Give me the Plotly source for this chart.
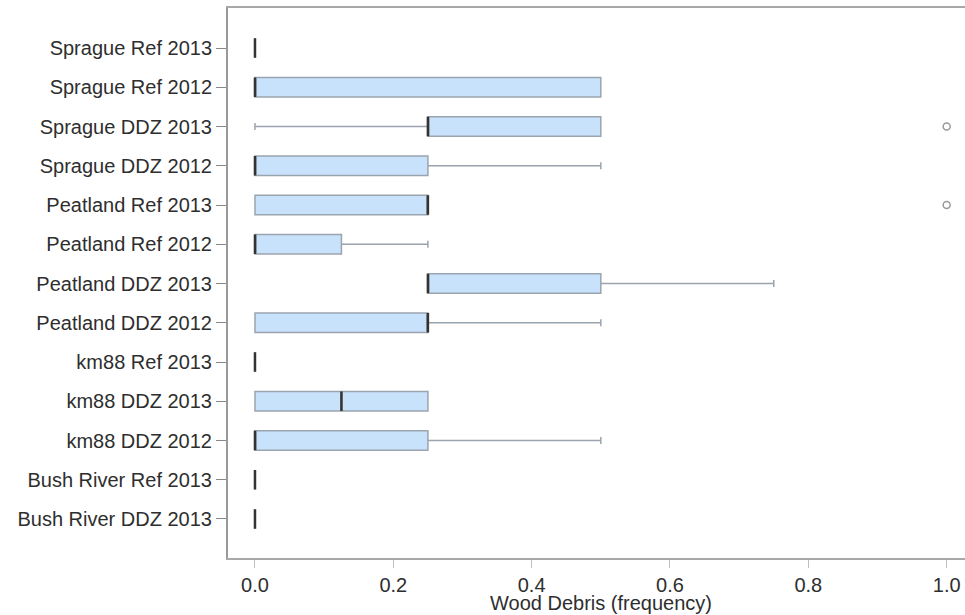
import plotly.graph_objects as go

# categories, bottom to top
categories = [
    "Bush River DDZ 2013", "Bush River Ref 2013", "km88 DDZ 2012", "km88 DDZ 2013",
    "km88 Ref 2013", "Peatland DDZ 2012", "Peatland DDZ 2013", "Peatland Ref 2012",
    "Peatland Ref 2013", "Sprague DDZ 2012", "Sprague DDZ 2013", "Sprague Ref 2012",
    "Sprague Ref 2013",
]
lower_whisker = [0, 0, 0, 0, 0, 0, 0.25, 0, 0, 0, 0, 0, 0]
q1 =            [0, 0, 0, 0, 0, 0, 0.25, 0, 0, 0, 0.25, 0, 0]
median =        [0, 0, 0, 0.125, 0, 0.25, 0.25, 0, 0.25, 0, 0.25, 0, 0]
q3 =            [0, 0, 0.25, 0.25, 0, 0.25, 0.5, 0.125, 0.25, 0.25, 0.5, 0.5, 0]
upper_whisker = [0, 0, 0.5, 0.25, 0, 0.5, 0.75, 0.25, 0.25, 0.5, 0.5, 0.5, 0]

outlier_cats = ["Sprague DDZ 2013", "Peatland Ref 2013"]
outlier_vals = [1.0, 1.0]

x_ticks = [0.0, 0.2, 0.4, 0.6, 0.8, 1.0]
x_tick_text = ["0.0", "0.2", "0.4", "0.6", "0.8", "1.0"]

FONT = "Liberation Sans, Arial, sans-serif"
TXT = "#2e2e2e"

fig = go.Figure()
fig.add_trace(go.Box(
    y=categories, orientation="h",
    q1=q1, median=median, q3=q3,
    lowerfence=lower_whisker, upperfence=upper_whisker,
    fillcolor="#c9e2fb", line=dict(color="#9aa4ae", width=1.5),
    whiskerwidth=0.35, width=0.5, boxpoints=False, showlegend=False,
    hoverinfo="skip",
))
fig.add_trace(go.Box(
    y=categories, orientation="h",
    q1=median, median=median, q3=median,
    lowerfence=median, upperfence=median,
    fillcolor="rgba(0,0,0,0)", line=dict(color="#333333", width=2.5),
    whiskerwidth=0, width=0.5, boxpoints=False, showlegend=False,
    hoverinfo="skip",
))
fig.add_trace(go.Scatter(
    x=outlier_vals, y=outlier_cats, mode="markers",
    marker=dict(symbol="circle-open", size=7, color="#9a9a9a", line=dict(width=1.5)),
    showlegend=False, hoverinfo="skip", cliponaxis=False,
))

fig.add_annotation(
    text="Wood Debris (frequency)", xref="x", yref="paper", x=0.5, y=-0.081,
    xanchor="center", yanchor="middle", showarrow=False,
    font=dict(family=FONT, size=20, color=TXT),
)

fig.update_layout(
    width=965, height=615,
    margin=dict(l=228, r=0, t=8, b=57, autoexpand=False),
    paper_bgcolor="white", plot_bgcolor="white",
    boxmode="overlay",
    font=dict(family=FONT, size=20, color=TXT),
    xaxis=dict(
        range=[-0.039, 1.0265], tickvals=x_ticks, ticktext=x_tick_text,
        showgrid=False, zeroline=False, automargin=False,
        showline=True, mirror=True, linecolor="#a8a8a8", linewidth=2,
        ticks="outside", ticklen=8, tickcolor="#c0c0c0", tickwidth=1,
        tickfont=dict(family=FONT, size=20, color=TXT),
    ),
    yaxis=dict(
        type="category", categoryorder="array", categoryarray=categories,
        range=[-0.994, 13.02], automargin=False,
        showgrid=False, zeroline=False,
        showline=True, linecolor="#999999", linewidth=2,
        ticks="outside", ticklen=10, tickcolor="#888888", tickwidth=1,
        tickfont=dict(family=FONT, size=20, color=TXT),
    ),
)

fig.write_html(
    "out.html",
    config={"displayModeBar": False},
    post_script="document.body.style.margin='0';document.body.style.overflow='hidden';",
)
